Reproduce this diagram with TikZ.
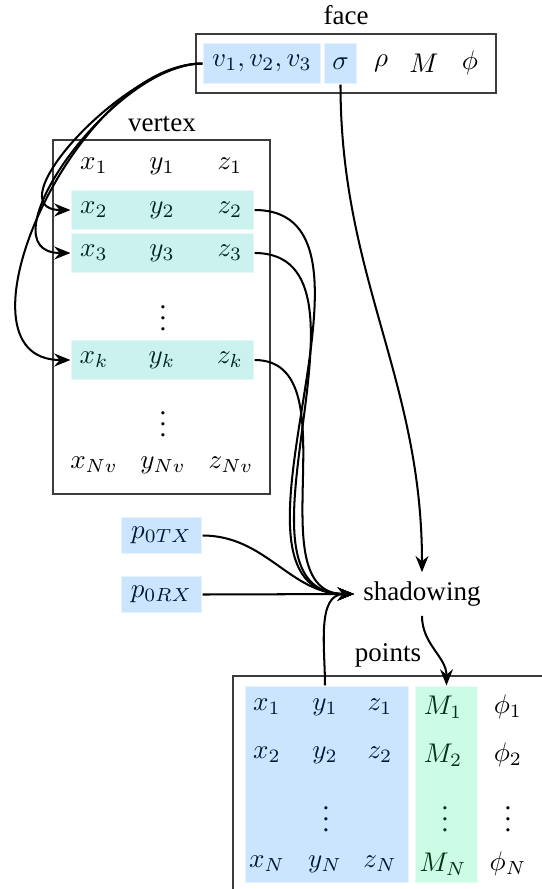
\documentclass[tikz,border=0pt]{standalone}
\usepackage[no-math]{fontspec}
\setmainfont{Liberation Serif}
\usetikzlibrary{arrows.meta,fit}
\definecolor{cblue}{RGB}{204,229,255}
\definecolor{ccyan}{RGB}{204,242,240}
\definecolor{cgreen}{RGB}{204,252,230}
\definecolor{tblue}{rgb}{0,0.1,0.2}
\definecolor{tcyan}{rgb}{0,0.15,0.14}
\definecolor{tgreen}{rgb}{0,0.2,0.1}
\definecolor{boxc}{RGB}{60,60,60}
\begin{document}
\begin{tikzpicture}[x=0.37pt,y=-0.37pt,
  box/.style={draw=boxc,line width=0.55pt,inner sep=0pt},
  cell/.style={inner sep=0pt,draw=white,draw opacity=0.5,line width=0.4pt},
  bluecell/.style={cell,fill=cblue},
  cyancell/.style={cell,fill=ccyan},
  greencell/.style={cell,fill=cgreen},
  tb/.style={text=tblue},
  tc/.style={text=tcyan},
  tg/.style={text=tgreen},
  dots/.style={inner sep=0pt},
  conn/.style={line width=0.75pt,-{Stealth[length=6pt,width=4.8pt,inset=2pt]}}
]
\useasboundingbox (0,0) rectangle (542,889);
\clip (0,0) rectangle (542,889);

% ---------- face ----------
\node (facelbl) at (346,15) {face};
\node[box,fit={(196,34) (496,93)}] (facebox) {};
\node[bluecell,fit={(203,43) (321,84)}] (vcell) {};
\node[tb] (vtxt) at (vcell.center) {$v_1,v_2,v_3$};
\node[bluecell,fit={(324,43) (357,84)}] (scell) {};
\node[tb] (stxt) at (scell.center) {$\sigma$};
\node (rho) at (381,63) {$\rho$};
\node (Mf) at (424,63) {$M$};
\node (phif) at (470,63) {$\phi$};

% ---------- vertex ----------
\node (vertlbl) at (162,124) {vertex};
\node[box,fit={(53,140) (270,494)}] (vertbox) {};
\node[cyancell,fit={(71,190) (254,230)}] (r2) {};
\node[cyancell,fit={(71,233) (254,273)}] (r3) {};
\node[cyancell,fit={(71,340) (254,380)}] (rk) {};
\node (x1) at (94,166) {$x_1$};
\node (y1) at (162,166) {$y_1$};
\node (z1) at (230,166) {$z_1$};
\node[tc] (x2) at (94,210) {$x_2$};
\node[tc] (y2) at (162,210) {$y_2$};
\node[tc] (z2) at (230,210) {$z_2$};
\node[tc] (x3) at (94,253) {$x_3$};
\node[tc] (y3) at (162,253) {$y_3$};
\node[tc] (z3) at (230,253) {$z_3$};
\node[dots] (vd1) at (163,310) {$\vdots$};
\node[tc] (xk) at (94,360) {$x_k$};
\node[tc] (yk) at (162,360) {$y_k$};
\node[tc] (zk) at (230,360) {$z_k$};
\node[dots] (vd2) at (163,416) {$\vdots$};
\node (xN) at (94,465) {$x_{Nv}$};
\node (yN) at (163,465) {$y_{Nv}$};
\node (zN) at (231,465) {$z_{Nv}$};

% ---------- p0 ----------
\node[bluecell,fit={(121,517) (202,554)}] (ptx) {};
\node[tb] (ptxt) at (ptx.center) {$p_{0TX}$};
\node[bluecell,fit={(121,576) (202,613)}] (prx) {};
\node[tb] (prxt) at (prx.center) {$p_{0RX}$};

% ---------- shadowing ----------
\node (shad) at (422,594) {shadowing};

% ---------- points ----------
\node (ptslbl) at (388,655) {points};
\node[box,fit={(233,676) (560,900)}] (ptsbox) {};
\node[bluecell,fit={(245,686) (409,883)}] (pblue) {};
\node[greencell,fit={(415,686) (478,883)}] (pgreen) {};
\node[tb] (px1) at (267,707) {$x_1$};
\node[tb] (py1) at (325,707) {$y_1$};
\node[tb] (pz1) at (380,707) {$z_1$};
\node[tg] (pM1) at (443,707) {$M_1$};
\node (pf1) at (508,707) {$\phi_1$};
\node[tb] (px2) at (267,755) {$x_2$};
\node[tb] (py2) at (325,755) {$y_2$};
\node[tb] (pz2) at (380,755) {$z_2$};
\node[tg] (pM2) at (443,755) {$M_2$};
\node (pf2) at (508,755) {$\phi_2$};
\node[tb,dots] (pvd1) at (326,811) {$\vdots$};
\node[tg,dots] (pvd2) at (445,811) {$\vdots$};
\node[dots] (pvd3) at (508,811) {$\vdots$};
\node[tb] (pxN) at (267,864) {$x_N$};
\node[tb] (pyN) at (325,864) {$y_N$};
\node[tb] (pzN) at (380,864) {$z_N$};
\node[tg] (pMN) at (443,864) {$M_N$};
\node (pfN) at (508,864) {$\phi_N$};
\coordinate (ytop) at (py1 |- pblue.north);

% ---------- connectors ----------
\draw[conn] (vcell.west) to[out=180,in=180] (r2.west);
\draw[conn] (vcell.west) to[out=180,in=180] (r3.west);
\draw[conn] (vcell.west) to[out=180,in=180] (rk.west);
\draw[conn] (r2.east) to[out=0,in=180] (shad.west);
\draw[conn] (r3.east) to[out=0,in=180] (shad.west);
\draw[conn] (rk.east) to[out=0,in=180] (shad.west);
\draw[conn] (ptx.east) to[out=0,in=180] (shad.west);
\draw[conn] (prx.east) -- (shad.west);
\draw[conn] (ytop) to[out=90,in=180] (shad.west);
\draw[conn] (scell.south) to[out=-90,in=90] (shad.north);
\draw[conn] (shad.south) to[out=-90,in=90] (pgreen.north);
\end{tikzpicture}
\end{document}
